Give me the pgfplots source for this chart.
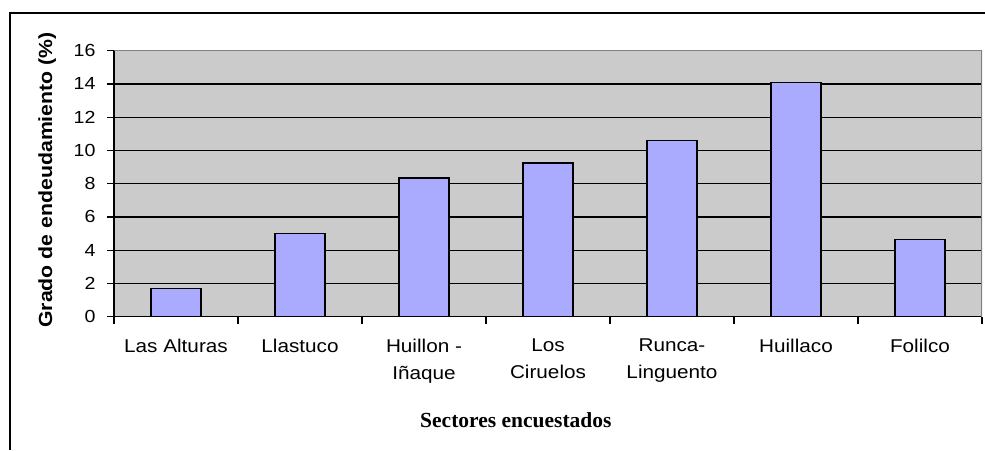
\documentclass[border=0pt]{standalone}
\usepackage{fontspec}
\setmainfont{Liberation Sans}[FakeStretch=1.12]
\newfontfamily\serifb{Liberation Serif}
\usepackage{pgfplots}
\pgfplotsset{compat=1.18}

\definecolor{plotgray}{HTML}{CBCBCB}
\definecolor{barblue}{HTML}{AAAAFF}
\definecolor{framegray}{HTML}{808080}

\begin{document}
\begin{tikzpicture}[x=1pt,y=1pt]
\useasboundingbox (0,0) rectangle (985,450);
% outer frame (right and bottom run off the picture)
\draw[line width=1.6pt] (10,0) -- (10,437) -- (985,437);

\begin{axis}[
    at={(114pt,133.3pt)},
    anchor=south west,
    scale only axis,
    width=868pt,
    height=266pt,
    ybar,
    bar width=50pt,
    bar shift=0pt,
    xmin=-0.5, xmax=6.5,
    ymin=0, ymax=16,
    ytick={0,2,...,16},
    xtick={0,...,6},
    xticklabels={Las Alturas,Llastuco,{Huillon -\\Iñaque},{Los\\Ciruelos},{Runca-\\Linguento},Huillaco,Folilco},
    minor xtick={-0.5,0.5,...,6.5},
    major x tick style={draw=none},
    tick align=outside,
    major tick length=7pt,
    minor tick length=7pt,
    tick style={black, line width=1.2pt},
    axis x line*=bottom,
    axis y line*=left,
    axis line style={black, line width=1.4pt},
    axis background/.style={fill=plotgray},
    ymajorgrids,
    grid style={black, line width=1.3pt},
    /pgf/number format/assume math mode=true,
    yticklabel style={font=\fontsize{17.5}{20}\selectfont, xshift=-8pt},
    xticklabel style={font=\fontsize{18.5}{27}\selectfont, align=center, anchor=north, yshift=-12pt},
    xlabel={\serifb\bfseries Sectores encuestados},
    xlabel style={font=\fontsize{21.5}{24}\selectfont, at={(axis description cs:0.463,-0.388)}, anchor=center},
    ylabel={\bfseries Grado de endeudamiento (\%)},
    ylabel style={font=\fontsize{19}{22}\selectfont, at={(axis description cs:-0.077,0.514)}, anchor=center, rotate=0},
]
\addplot[fill=barblue, draw=black, line width=1.3pt] coordinates {
    (0,1.7) (1,5.0) (2,8.35) (3,9.25) (4,10.6) (5,14.1) (6,4.65)
};
\draw[framegray, line width=1.4pt] (rel axis cs:0,1) -- (rel axis cs:1,1) -- (rel axis cs:1,0);
\end{axis}
\end{tikzpicture}
\end{document}
